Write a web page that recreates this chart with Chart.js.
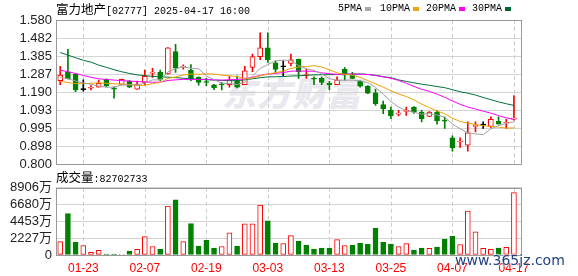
<!DOCTYPE html>
<html>
<head>
<meta charset="utf-8">
<script src="https://cdn.jsdelivr.net/npm/chart.js@4.4.1/dist/chart.umd.min.js"></script>
<style>
  html, body { margin: 0; padding: 0; background: #fff; }
  #wrap { position: relative; width: 578px; height: 276px; overflow: hidden; }
  canvas { position: absolute; left: 0; z-index: 1; }
  #priceCanvas { top: 0; }
  #volCanvas { top: 176px; }
  .txt { position: absolute; white-space: nowrap; color: #000; line-height: 16px; z-index: 2; }
  .cn { font-family: "Noto Sans CJK SC", sans-serif; font-size: 12.5px; }
  .mono { font-family: "Liberation Mono", monospace; font-size: 10px; }
  .sw { position: absolute; top: 7px; width: 6px; height: 4px; z-index: 2; }
  #mark { position: absolute; left: 222px; top: 72px; z-index: 0; font-family: "Noto Sans CJK SC", sans-serif;
          font-size: 34px; font-weight: 900; font-style: italic; color: #e8e8ee; letter-spacing: 1px; line-height: 40px; }
  #site { position: absolute; left: 455px; top: 252px; z-index: 3; font-family: "DejaVu Sans", sans-serif; font-size: 14px;
          color: #223f80; text-shadow: 0 0 2px #fff, 0 0 2px #fff; }
</style>
</head>
<body>
<div id="wrap">
  <div id="mark">东方财富</div>
  <canvas id="priceCanvas" width="578" height="176"></canvas>
  <canvas id="volCanvas" width="578" height="100"></canvas>

  <div class="txt" style="left:56px; top:1px;"><span class="cn">富力地产</span><span class="mono">[02777] 2025-04-17 16:00</span></div>

  <div class="txt mono" style="left:338px; top:1px;">5PMA</div>
  <div class="sw" style="left:365px; background:#a8a8a8;"></div>
  <div class="txt mono" style="left:380px; top:1px;">10PMA</div>
  <div class="sw" style="left:413px; background:#f0a30a;"></div>
  <div class="txt mono" style="left:426px; top:1px;">20PMA</div>
  <div class="sw" style="left:459px; background:#ff00ff;"></div>
  <div class="txt mono" style="left:472px; top:1px;">30PMA</div>
  <div class="sw" style="left:505px; background:#006633;"></div>

  <div class="txt" style="left:56px; top:169px;"><span class="cn">成交量</span><span class="mono">:82702733</span></div>
  <div id="site">www.365jz.com</div>
</div>

<script>
const dates = ['01-20','01-21','01-22','01-23','01-24','01-27','01-28',
  '02-03','02-04','02-05','02-06','02-07','02-10','02-11','02-12','02-13','02-14',
  '02-17','02-18','02-19','02-20','02-21','02-24','02-25','02-26','02-27','02-28',
  '03-03','03-04','03-05','03-06','03-07','03-10','03-11','03-12','03-13','03-14',
  '03-17','03-18','03-19','03-20','03-21','03-24','03-25','03-26','03-27','03-28',
  '03-31','04-01','04-02','04-03','04-07','04-08','04-09','04-10','04-11',
  '04-14','04-15','04-16','04-17'];

const xTickLabels = ['01-23','02-07','02-19','03-03','03-13','03-25','04-07','04-17'];

const opens = [1.252,1.300,1.287,1.203,1.211,1.216,1.259,1.213,1.232,1.250,
  1.206,1.243,1.293,1.297,1.288,1.409,1.325,1.309,1.270,1.246,
  1.230,1.231,1.230,1.252,1.230,1.323,1.382,1.430,1.348,1.327,
  1.345,1.368,1.280,1.262,1.266,1.239,1.230,1.313,1.284,1.248,
  1.222,1.186,1.123,1.091,1.071,1.086,1.109,1.082,1.059,1.082,
  1.036,0.943,0.920,0.903,1.005,1.011,1.005,1.032,1.023,1.044];
const highs = [1.329,1.421,1.290,1.257,1.225,1.255,1.262,1.218,1.261,1.252,
  1.250,1.309,1.318,1.309,1.431,1.448,1.337,1.339,1.272,1.264,
  1.232,1.243,1.275,1.278,1.329,1.395,1.511,1.511,1.359,1.359,
  1.395,1.368,1.314,1.273,1.273,1.248,1.273,1.323,1.297,1.252,
  1.225,1.207,1.141,1.109,1.091,1.109,1.111,1.091,1.085,1.091,
  1.055,0.954,0.943,1.029,1.029,1.029,1.056,1.056,1.043,1.171];
const lows = [1.230,1.261,1.193,1.195,1.202,1.216,1.220,1.157,1.232,1.214,
  1.205,1.229,1.270,1.252,1.287,1.297,1.314,1.252,1.227,1.225,
  1.203,1.202,1.216,1.213,1.230,1.300,1.366,1.350,1.297,1.277,
  1.332,1.264,1.264,1.230,1.230,1.203,1.230,1.255,1.262,1.216,
  1.182,1.118,1.073,1.046,1.061,1.064,1.075,1.029,1.057,1.016,
  0.993,0.871,0.891,0.871,0.975,0.993,0.997,1.016,0.993,1.038];
const closes = [1.282,1.261,1.202,1.203,1.213,1.238,1.225,1.206,1.259,1.216,
  1.234,1.275,1.296,1.259,1.430,1.320,1.327,1.261,1.243,1.242,
  1.214,1.229,1.255,1.216,1.305,1.382,1.430,1.364,1.313,1.327,
  1.364,1.300,1.282,1.260,1.243,1.230,1.255,1.282,1.264,1.222,
  1.184,1.127,1.100,1.061,1.073,1.088,1.082,1.046,1.082,1.034,
  1.033,0.889,0.922,0.970,1.007,1.011,1.043,1.016,1.025,1.048];

const ma5 = [1.272,1.262,1.250,1.240,1.232,1.223,1.216,1.217,1.228,1.229,
  1.228,1.238,1.256,1.256,1.299,1.316,1.326,1.319,1.316,1.278,
  1.257,1.238,1.236,1.231,1.243,1.277,1.318,1.339,1.359,1.363,
  1.360,1.334,1.317,1.307,1.290,1.263,1.254,1.254,1.255,1.251,
  1.241,1.216,1.179,1.139,1.109,1.090,1.081,1.070,1.074,1.066,
  1.055,1.017,0.992,0.970,0.964,0.960,0.991,1.009,1.020,1.029];
const ma10 = [1.248,1.242,1.236,1.236,1.238,1.240,1.238,1.235,1.233,1.230,
  1.226,1.227,1.236,1.242,1.264,1.272,1.282,1.288,1.286,1.289,
  1.287,1.282,1.278,1.274,1.261,1.267,1.278,1.288,1.295,1.304,
  1.318,1.326,1.328,1.333,1.326,1.311,1.294,1.286,1.281,1.270,
  1.252,1.235,1.217,1.197,1.180,1.166,1.148,1.125,1.106,1.088,
  1.073,1.049,1.031,1.022,1.015,1.008,1.004,1.001,0.995,0.996];
const ma20 = [1.309,1.300,1.291,1.280,1.270,1.262,1.258,1.255,1.252,1.250,
  1.247,1.245,1.243,1.244,1.253,1.256,1.259,1.259,1.258,1.260,
  1.256,1.255,1.257,1.258,1.263,1.270,1.280,1.288,1.291,1.296,
  1.303,1.304,1.303,1.303,1.294,1.290,1.286,1.287,1.288,1.287,
  1.285,1.280,1.272,1.265,1.253,1.238,1.221,1.205,1.194,1.179,
  1.162,1.142,1.124,1.109,1.098,1.087,1.076,1.063,1.051,1.042];
const ma30 = [1.404,1.390,1.376,1.362,1.352,1.336,1.324,1.311,1.300,1.291,
  1.283,1.279,1.275,1.272,1.271,1.268,1.265,1.262,1.259,1.257,
  1.255,1.253,1.252,1.252,1.256,1.262,1.268,1.272,1.273,1.274,
  1.277,1.278,1.281,1.283,1.284,1.284,1.285,1.287,1.287,1.288,
  1.286,1.281,1.274,1.268,1.256,1.248,1.240,1.233,1.227,1.220,
  1.214,1.203,1.192,1.184,1.174,1.161,1.149,1.137,1.127,1.118];

// volume in 万
const volumes = [1781,5474,1694,1260,348,608,130,130,87,521,
  739,2433,1130,782,6473,7299,1781,4171,1173,1955,
  912,1130,2954,1173,4127,4127,6604,4518,1564,1520,
  2563,1825,1303,782,912,912,2042,1260,1303,1564,
  1434,3519,1694,1434,1130,1520,652,912,869,1043,
  2085,2476,1390,5822,3085,869,739,912,1000,8270];

const priceTicks = [0.8, 0.8975, 0.995, 1.0925, 1.19, 1.2875, 1.385, 1.4825, 1.58];
const priceLabels = ['0.800','0.898','0.995','1.093','1.190','1.287','1.385','1.482','1.580'];
const volTicks = [0, 2227, 4453, 6680, 8906];
const volLabels = ['0','2227万','4453万','6680万','8906万'];

const UP = '#ff0000', DOWN = '#008000', FLAT = '#000000';
const candleColor = i => closes[i] > opens[i] ? UP : (closes[i] < opens[i] ? DOWN : FLAT);
const volUp = i => i === 0 ? closes[0] >= opens[0] : closes[i] >= closes[i - 1];
const xTickIdx = xTickLabels.map(l => dates.indexOf(l));
const pts = arr => arr.map((v, i) => ({ x: i, y: v }));

// frame + dashed date lines, placed through the x scale
const frame = {
  id: 'frame',
  beforeDatasetsDraw(chart) {
    const { ctx, chartArea: a, scales } = chart;
    ctx.save();
    ctx.strokeStyle = '#cccccc';
    ctx.lineWidth = 1;
    ctx.setLineDash([4, 3]);
    xTickIdx.forEach(i => {
      const px = Math.round(scales.x.getPixelForValue(i)) + 0.5;
      ctx.beginPath();
      ctx.moveTo(px, a.top);
      ctx.lineTo(px, a.bottom);
      ctx.stroke();
    });
    ctx.setLineDash([]);
    ctx.strokeStyle = '#999999';
    ctx.strokeRect(Math.round(a.left) + 0.5, Math.round(a.top) + 0.5,
      Math.round(a.right - a.left) - 1, Math.round(a.bottom - a.top));
    ctx.restore();
  }
};

function xScale(showLabels) {
  return {
    type: 'linear',
    offset: false,
    min: -0.55,
    max: dates.length + 0.05,
    afterBuildTicks: s => { s.ticks = xTickIdx.map(v => ({ value: v })); },
    afterFit: s => { s.height = showLabels ? 21 : 0; },
    grid: { color: 'rgba(0,0,0,0)', drawTicks: false, offset: false },
    border: { display: false },
    ticks: {
      display: showLabels, autoSkip: false, maxRotation: 0, padding: 6,
      color: '#ff0000', font: { family: 'Liberation Sans', size: 12 },
      callback: v => dates[v]
    }
  };
}

function yScale(ticks, labels) {
  return {
    min: ticks[0],
    max: ticks[ticks.length - 1],
    afterBuildTicks: s => { s.ticks = ticks.map(v => ({ value: v })); },
    afterFit: s => { s.width = 56; },
    grid: { color: '#d4d4d4', drawTicks: false },
    border: { display: false },
    ticks: {
      autoSkip: false, padding: 4, color: '#222222',
      font: { family: "'Liberation Sans', 'Noto Sans CJK SC'", size: 13 },
      callback: (v, i) => labels[i]
    }
  };
}

const common = {
  responsive: false,
  animation: false,
  devicePixelRatio: 1,
  plugins: { legend: { display: false }, tooltip: { enabled: false } }
};

const maLine = (data, color) => ({
  type: 'line', data: pts(data), borderColor: color, borderWidth: 1,
  pointRadius: 0, tension: 0, order: 1
});

new Chart(document.getElementById('priceCanvas'), {
  type: 'bar',
  data: {
    datasets: [
      maLine(ma5, '#a0a0a0'),
      maLine(ma10, '#f0a000'),
      maLine(ma20, '#ff00ff'),
      maLine(ma30, '#00703c'),
      {
        type: 'bar',
        data: highs.map((h, i) => ({ x: i, y: [lows[i], h] })),
        backgroundColor: highs.map((h, i) => candleColor(i)),
        barThickness: 1, grouped: false, order: 6
      },
      {
        type: 'bar',
        data: opens.map((o, i) => ({ x: i, y: [o, closes[i]] })),
        backgroundColor: opens.map((o, i) => candleColor(i) === UP ? '#ffffff' : candleColor(i)),
        borderColor: opens.map((o, i) => candleColor(i)),
        borderWidth: 1, borderSkipped: false, minBarLength: 1,
        barThickness: 5, grouped: false, order: 5
      }
    ]
  },
  options: Object.assign({}, common, {
    layout: { padding: { top: 20, right: 56, bottom: 10, left: 0 } },
    scales: { x: xScale(false), y: yScale(priceTicks, priceLabels) }
  }),
  plugins: [frame]
});

new Chart(document.getElementById('volCanvas'), {
  type: 'bar',
  data: {
    datasets: [{
      data: pts(volumes),
      backgroundColor: volumes.map((v, i) => volUp(i) ? '#ffffff' : DOWN),
      borderColor: volumes.map((v, i) => volUp(i) ? UP : DOWN),
      borderWidth: 1, borderSkipped: false, barThickness: 5, grouped: false
    }]
  },
  options: Object.assign({}, common, {
    layout: { padding: { top: 11, right: 56, bottom: 0, left: 0 } },
    scales: { x: xScale(true), y: yScale(volTicks, volLabels) }
  }),
  plugins: [frame]
});
</script>
</body>
</html>
